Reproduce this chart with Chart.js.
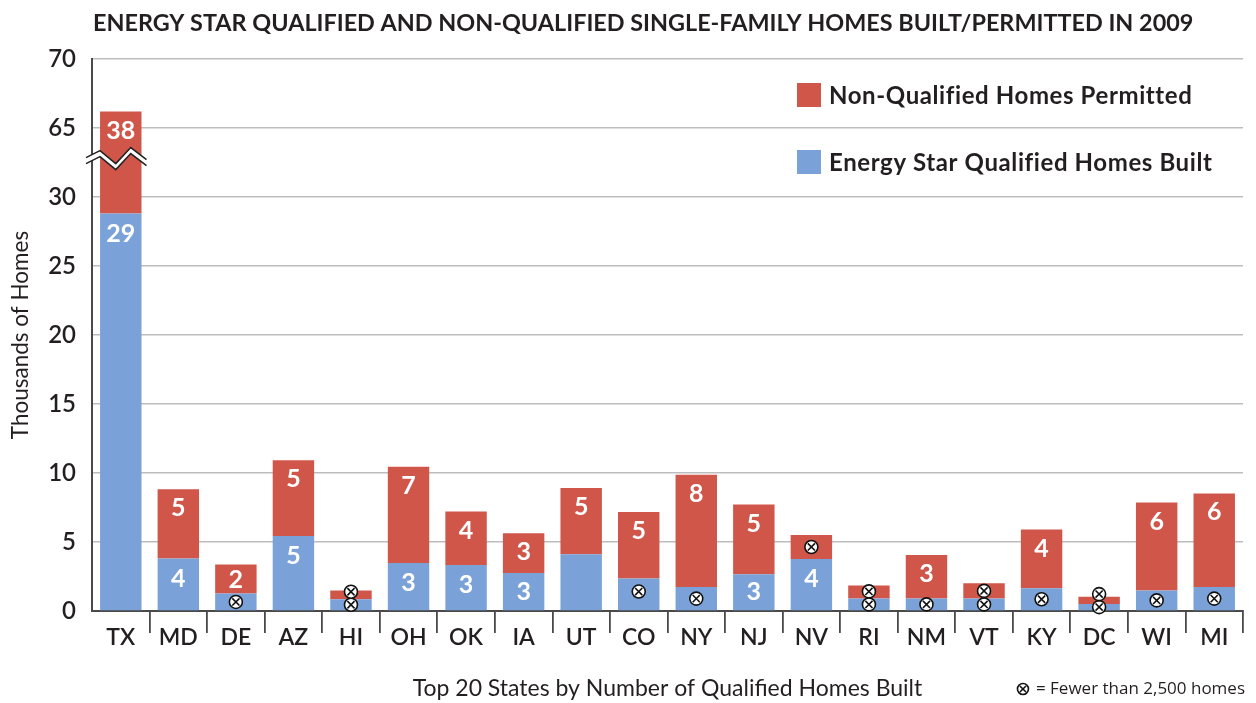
<!DOCTYPE html>
<html>
<head>
<meta charset="utf-8">
<script src="https://cdn.jsdelivr.net/npm/chart.js@4.4.1/dist/chart.umd.min.js"></script>
<style>
  html, body { margin: 0; padding: 0; background: #fff; }
  #wrap { width: 1256px; height: 703px; position: relative; }
</style>
</head>
<body>
<div id="wrap"><canvas id="c" width="1256" height="703"></canvas></div>
<script>
// ---- Data (thousands of homes) ----
const states = ['TX','MD','DE','AZ','HI','OH','OK','IA','UT','CO','NY','NJ','NV','RI','NM','VT','KY','DC','WI','MI'];
const qualifiedBuilt = [28.8, 3.8, 1.26, 5.44, 0.85, 3.48, 3.34, 2.76, 4.11, 2.35, 1.74, 2.66, 3.77, 0.90, 0.90, 0.90, 1.65, 0.51, 1.48, 1.74];
const nonQualifiedPermitted = [37.4, 5.03, 2.11, 5.49, 0.63, 6.97, 3.87, 2.88, 4.81, 4.83, 8.13, 5.06, 1.74, 0.94, 3.16, 1.11, 4.25, 0.53, 6.38, 6.78];
const qualifiedLabels = ['29','4','⊗','5','⊗','3','3','3','','⊗','⊗','3','4','⊗','⊗','⊗','⊗','⊗','⊗','⊗'];
const nonQualifiedLabels = ['38','5','2','5','⊗','7','4','3','5','5','8','5','⊗','⊗','3','⊗','4','⊗','6','6'];
const yTickValues = [0,5,10,15,20,25,30,65,70];
const seriesNames = ['Energy Star Qualified Homes Built', 'Non-Qualified Homes Permitted'];
const chartTitle = 'ENERGY STAR QUALIFIED AND NON-QUALIFIED SINGLE-FAMILY HOMES BUILT/PERMITTED IN 2009';
const xTitle = 'Top 20 States by Number of Qualified Homes Built';
const yTitle = 'Thousands of Homes';
const noteText = '= Fewer than 2,500 homes';

// ---- Axis break: 30 .. 65 collapsed ----
const BREAK_LO = 30, BREAK_HI = 65, BREAK_GAP = BREAK_HI - BREAK_LO - 5; // 65 sits one step above 30
function toDisplay(v) { return v >= BREAK_HI - 2.5 ? v - BREAK_GAP : v; }
function fromDisplay(d) { return d > BREAK_LO + 2.5 ? d + BREAK_GAP : d; }

const blueDisp = qualifiedBuilt.map(toDisplay);
const redDisp = nonQualifiedPermitted.map((r, i) => toDisplay(qualifiedBuilt[i] + r) - toDisplay(qualifiedBuilt[i]));

const RED = '#d0564a';
const BLUE = '#7ba2d8';
const TXT = '#231f20';
const FONT = "Lato, 'Open Sans', sans-serif";

function drawXMark(ctx, x, y, r) {
  ctx.save();
  ctx.beginPath();
  ctx.arc(x, y, r, 0, Math.PI * 2);
  ctx.fillStyle = '#fff';
  ctx.fill();
  ctx.lineWidth = 1.6;
  ctx.strokeStyle = '#111';
  ctx.stroke();
  const d = r * 0.55;
  ctx.beginPath();
  ctx.moveTo(x - d, y - d); ctx.lineTo(x + d, y + d);
  ctx.moveTo(x + d, y - d); ctx.lineTo(x - d, y + d);
  ctx.lineWidth = 1.6;
  ctx.stroke();
  ctx.restore();
}

const overlayPlugin = {
  id: 'overlay',
  afterDatasetsDraw(chart) {
    const ctx = chart.ctx;
    const blueMeta = chart.getDatasetMeta(0);
    const redMeta = chart.getDatasetMeta(1);
    const yScale = chart.scales.y;
    // break symbol across axis and TX bar
    const cy = yScale.getPixelForValue(33);
    const ax = chart.chartArea.left;
    const tx = blueMeta.data[0];
    const right = tx.x + tx.width / 2 + 5;
    const pts = [[ax - 6, cy + 2], [ax + 8, cy - 5], [tx.x - 5, cy + 8], [tx.x + 10, cy - 8], [right, cy + 4]];
    const th = 6;
    ctx.save();
    ctx.beginPath();
    pts.forEach((p, i) => i ? ctx.lineTo(p[0], p[1]) : ctx.moveTo(p[0], p[1]));
    for (let i = pts.length - 1; i >= 0; i--) ctx.lineTo(pts[i][0], pts[i][1] + th);
    ctx.closePath();
    ctx.fillStyle = '#fff';
    ctx.fill();
    ctx.lineWidth = 1.5;
    ctx.strokeStyle = '#222';
    ctx.beginPath();
    pts.forEach((p, i) => i ? ctx.lineTo(p[0], p[1]) : ctx.moveTo(p[0], p[1]));
    ctx.stroke();
    ctx.beginPath();
    pts.forEach((p, i) => i ? ctx.lineTo(p[0], p[1] + th) : ctx.moveTo(p[0], p[1] + th));
    ctx.stroke();
    ctx.restore();

    // value labels
    ctx.save();
    ctx.font = `700 25px ${FONT}`;
    ctx.textAlign = 'center';
    ctx.textBaseline = 'middle';
    ctx.fillStyle = '#fff';
    states.forEach((s, i) => {
      const b = blueMeta.data[i], r = redMeta.data[i];
      const bTop = b.y, bBot = b.base, bMid = (bTop + bBot) / 2;
      const rTop = r.y, rBot = r.base, rMid = (rTop + rBot) / 2;
      let by = null;
      const bl = qualifiedLabels[i];
      if (bl === '⊗') { by = Math.min(bTop + 13, bMid); drawXMark(ctx, b.x, by, 6.5); }
      else if (bl) { ctx.fillText(bl, b.x, Math.min(bTop + 20, bMid)); }
      const rl = nonQualifiedLabels[i];
      if (rl === '⊗') {
        let ry = Math.min(rTop + 13, rMid);
        if (by !== null && by - ry < 13) ry = by - 13;
        drawXMark(ctx, r.x, ry, 6.5);
      } else if (rl) { ctx.fillText(rl, r.x, Math.min(rTop + 19, rMid + 1)); }
    });
    ctx.restore();
  },
  afterDraw(chart) {
    const ctx = chart.ctx;
    ctx.save();
    // title, fitted to the reference width
    let fs = 20;
    ctx.font = `700 ${fs}px ${FONT}`;
    const w = ctx.measureText(chartTitle).width;
    fs = fs * 1101 / w;
    ctx.font = `700 ${fs}px ${FONT}`;
    ctx.fillStyle = TXT;
    ctx.textAlign = 'left';
    ctx.textBaseline = 'middle';
    ctx.fillText(chartTitle, 93, 23);

    // legend (reverse order: red on top)
    const ds = chart.data.datasets;
    ctx.font = `700 24px ${FONT}`;
    ctx.letterSpacing = '0.6px';
    [1, 0].forEach((di, k) => {
      const yc = 95 + k * 67;
      ctx.fillStyle = ds[di].backgroundColor;
      ctx.fillRect(797, yc - 12, 24, 24);
      ctx.fillStyle = TXT;
      ctx.fillText(ds[di].label, 829, yc + 1);
    });
    ctx.letterSpacing = '0px';

    // note
    ctx.font = `17px 'Open Sans', ${FONT}`;
    ctx.textAlign = 'right';
    ctx.fillStyle = TXT;
    ctx.fillText(noteText, 1245, 689);
    const nw = ctx.measureText(noteText).width;
    drawXMark(ctx, 1245 - nw - 13, 689, 5.5);
    ctx.restore();
  }
};

new Chart(document.getElementById('c'), {
  type: 'bar',
  data: {
    labels: states,
    datasets: [
      { label: seriesNames[0], data: blueDisp, backgroundColor: BLUE },
      { label: seriesNames[1], data: redDisp, backgroundColor: RED }
    ]
  },
  options: {
    responsive: false,
    animation: false,
    events: [],
    layout: { padding: { top: 59, right: 13, left: 0, bottom: 0 } },
    datasets: { bar: { categoryPercentage: 1, barPercentage: 0.72 } },
    plugins: { legend: { display: false }, title: { display: false }, tooltip: { enabled: false } },
    scales: {
      x: {
        stacked: true,
        afterFit(s) { s.height = 92; },
        border: { display: true, color: '#4a4a4a', width: 2 },
        grid: {
          offset: true, drawOnChartArea: false, drawTicks: true, tickLength: 22, lineWidth: 1.8,
          color: (c) => (c.index === 0 || c.index === states.length) ? 'rgba(0,0,0,0)' : '#4a4a4a'
        },
        ticks: { color: TXT, font: { family: FONT, size: 23, weight: '600' }, padding: -9, maxRotation: 0, autoSkip: false },
        title: { display: true, text: xTitle, color: TXT, font: { family: FONT, size: 23, weight: '400', lineHeight: 1 }, padding: { top: 0, bottom: 3 } }
      },
      y: {
        stacked: true,
        min: 0, max: 40,
        afterFit(s) { s.width = 92; },
        afterBuildTicks(s) { s.ticks = yTickValues.map(v => ({ value: toDisplay(v) })); },
        border: { display: true, color: '#4a4a4a', width: 2 },
        grid: { drawTicks: false, color: '#bdbdbd', lineWidth: 1.5 },
        ticks: {
          color: TXT, padding: 16,
          font: { family: FONT, size: 24, weight: '600' },
          callback: (v) => String(fromDisplay(v))
        },
        title: { display: true, text: yTitle, color: TXT, font: { family: FONT, size: 22.5, weight: '400', lineHeight: 1 }, padding: { top: 9, bottom: 0 } }
      }
    }
  },
  plugins: [overlayPlugin]
});
</script>
</body>
</html>
